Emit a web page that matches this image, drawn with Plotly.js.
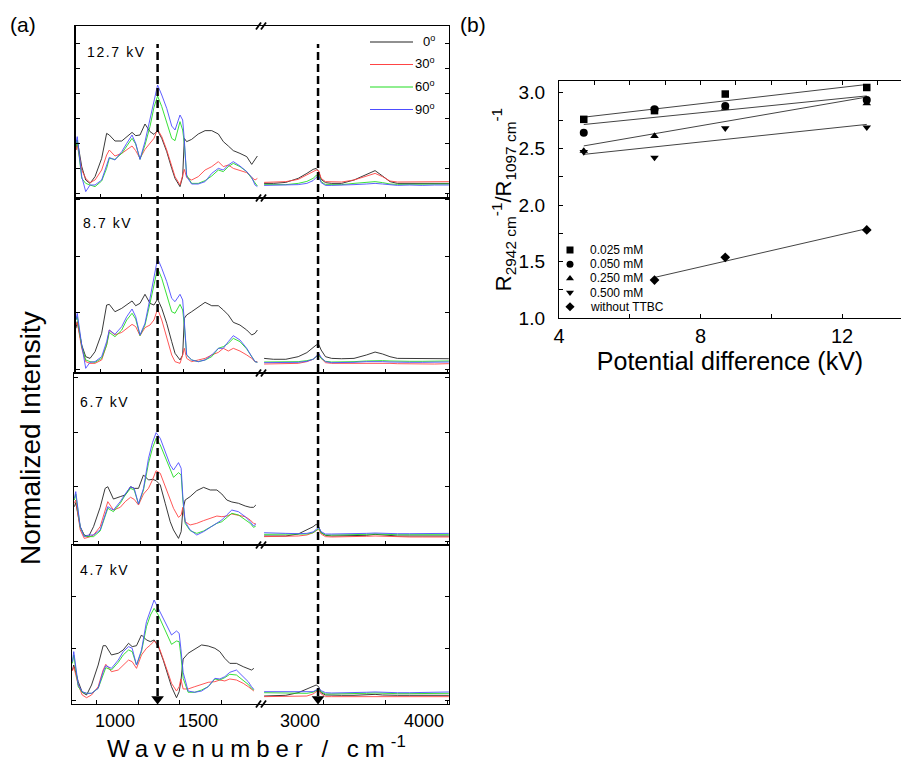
<!DOCTYPE html>
<html><head><meta charset="utf-8">
<script src="https://cdn.plot.ly/plotly-3.0.1.min.js"></script>
<style>html,body{margin:0;padding:0;background:#fff}#chart{width:901px;height:763px}</style>
</head><body><div id="chart"></div>
<script>
// ---------------- DATA ----------------
// panel (a): wavenumbers (cm-1) of the sampled points, low and high segment
const waveLow = [605, 613, 640, 664, 690, 720, 760, 790, 806, 840, 881, 911, 943, 965, 991, 1021, 1051, 1075, 1097, 1122, 1152, 1182, 1202, 1232, 1248, 1258, 1272, 1302, 1342, 1383, 1423, 1463, 1493, 1523, 1553, 1593, 1634, 1664, 1684, 1698];
const waveHigh = [2525, 2600, 2700, 2800, 2870, 2920, 2945, 2965, 2985, 3020, 3070, 3150, 3250, 3350, 3420, 3480, 3540, 3600, 3700, 3800, 3900, 4000, 4015];
const angles = ['0', '30', '60', '90'];
const voltages = ['12.7 kV', '8.7 kV', '6.7 kV', '4.7 kV'];

// 12.7 kV
const v127_a0_lo = [0.344, 0.424, 0.211, 0.104, 0.077, 0.131, 0.277, 0.477, 0.464, 0.416, 0.416, 0.451, 0.485, 0.459, 0.464, 0.552, 0.491, 0.469, 0.499, 0.437, 0.331, 0.197, 0.117, 0.051, 0.131, 0.437, 0.411, 0.429, 0.472, 0.499, 0.499, 0.472, 0.411, 0.376, 0.339, 0.317, 0.291, 0.229, 0.264, 0.296];
const v127_a30_lo = [0.344, 0.384, 0.184, 0.117, 0.083, 0.104, 0.184, 0.304, 0.344, 0.296, 0.317, 0.344, 0.376, 0.339, 0.277, 0.349, 0.397, 0.437, 0.509, 0.451, 0.344, 0.211, 0.131, 0.064, 0.131, 0.189, 0.125, 0.104, 0.131, 0.184, 0.211, 0.251, 0.211, 0.224, 0.197, 0.179, 0.163, 0.125, 0.104, 0.117];
const v127_a60_lo = [0.371, 0.424, 0.117, 0.077, 0.064, 0.051, 0.096, 0.197, 0.277, 0.269, 0.317, 0.371, 0.437, 0.392, 0.269, 0.384, 0.531, 0.685, 0.776, 0.691, 0.557, 0.437, 0.419, 0.571, 0.504, 0.397, 0.144, 0.077, 0.077, 0.099, 0.136, 0.184, 0.171, 0.211, 0.237, 0.211, 0.171, 0.117, 0.077, 0.056];
const v127_a90_lo = [0.397, 0.451, 0.131, 0.011, 0.064, 0.064, 0.104, 0.211, 0.285, 0.264, 0.331, 0.397, 0.464, 0.397, 0.269, 0.411, 0.597, 0.731, 0.864, 0.784, 0.677, 0.536, 0.504, 0.624, 0.584, 0.424, 0.131, 0.072, 0.072, 0.091, 0.157, 0.197, 0.184, 0.224, 0.251, 0.216, 0.171, 0.125, 0.064, 0.051];
const v127_a0_hi = [0.077, 0.077, 0.085, 0.117, 0.157, 0.189, 0.197, 0.171, 0.109, 0.083, 0.077, 0.077, 0.104, 0.152, 0.179, 0.136, 0.091, 0.077, 0.077, 0.083, 0.077, 0.077, 0.077];
const v127_a30_hi = [0.085, 0.085, 0.091, 0.109, 0.144, 0.171, 0.184, 0.179, 0.117, 0.091, 0.088, 0.088, 0.104, 0.136, 0.157, 0.131, 0.096, 0.088, 0.088, 0.091, 0.088, 0.091, 0.091];
const v127_a60_hi = [0.067, 0.067, 0.067, 0.077, 0.093, 0.117, 0.141, 0.144, 0.091, 0.067, 0.067, 0.067, 0.077, 0.088, 0.091, 0.083, 0.072, 0.069, 0.069, 0.069, 0.072, 0.072, 0.072];
const v127_a90_hi = [0.061, 0.061, 0.061, 0.067, 0.077, 0.099, 0.125, 0.136, 0.083, 0.061, 0.061, 0.061, 0.067, 0.072, 0.077, 0.072, 0.064, 0.061, 0.064, 0.061, 0.064, 0.064, 0.064];

// 8.7 kV
const v87_a0_lo = [0.360, 0.419, 0.212, 0.109, 0.094, 0.153, 0.316, 0.566, 0.572, 0.507, 0.537, 0.566, 0.602, 0.560, 0.581, 0.661, 0.581, 0.566, 0.619, 0.537, 0.404, 0.242, 0.139, 0.080, 0.124, 0.448, 0.478, 0.507, 0.552, 0.590, 0.560, 0.560, 0.522, 0.478, 0.413, 0.389, 0.345, 0.301, 0.316, 0.345];
const v87_a30_lo = [0.389, 0.413, 0.183, 0.065, 0.050, 0.050, 0.080, 0.212, 0.345, 0.301, 0.324, 0.360, 0.395, 0.375, 0.295, 0.366, 0.389, 0.434, 0.531, 0.434, 0.271, 0.124, 0.065, 0.050, 0.124, 0.183, 0.094, 0.065, 0.080, 0.094, 0.124, 0.147, 0.183, 0.159, 0.183, 0.159, 0.124, 0.094, 0.065, 0.065];
const v87_a60_lo = [0.434, 0.463, 0.198, 0.080, 0.065, 0.059, 0.094, 0.212, 0.324, 0.286, 0.345, 0.434, 0.493, 0.442, 0.295, 0.389, 0.581, 0.758, 0.891, 0.802, 0.655, 0.507, 0.493, 0.572, 0.522, 0.389, 0.124, 0.080, 0.065, 0.080, 0.109, 0.183, 0.198, 0.227, 0.271, 0.242, 0.177, 0.109, 0.065, 0.059];
const v87_a90_lo = [0.434, 0.493, 0.212, 0.006, 0.059, 0.065, 0.109, 0.242, 0.345, 0.307, 0.375, 0.463, 0.531, 0.463, 0.301, 0.404, 0.625, 0.817, 0.979, 0.891, 0.773, 0.625, 0.596, 0.661, 0.611, 0.419, 0.124, 0.080, 0.065, 0.080, 0.124, 0.183, 0.183, 0.242, 0.295, 0.257, 0.183, 0.109, 0.065, 0.059];
const v87_a0_hi = [0.094, 0.086, 0.086, 0.109, 0.145, 0.192, 0.212, 0.218, 0.168, 0.109, 0.094, 0.091, 0.094, 0.124, 0.150, 0.133, 0.109, 0.094, 0.094, 0.094, 0.091, 0.091, 0.091];
const v87_a30_hi = [0.044, 0.044, 0.044, 0.050, 0.065, 0.086, 0.109, 0.130, 0.094, 0.056, 0.050, 0.050, 0.050, 0.056, 0.056, 0.056, 0.050, 0.047, 0.044, 0.047, 0.044, 0.047, 0.047];
const v87_a60_hi = [0.062, 0.062, 0.062, 0.065, 0.074, 0.086, 0.109, 0.124, 0.094, 0.068, 0.062, 0.062, 0.065, 0.071, 0.074, 0.074, 0.071, 0.068, 0.068, 0.068, 0.071, 0.071, 0.071];
const v87_a90_hi = [0.056, 0.056, 0.056, 0.059, 0.068, 0.086, 0.109, 0.139, 0.103, 0.065, 0.056, 0.056, 0.059, 0.065, 0.068, 0.065, 0.062, 0.059, 0.059, 0.059, 0.062, 0.062, 0.062];

// 6.7 kV
const v67_a0_lo = [0.315, 0.352, 0.131, 0.055, 0.040, 0.131, 0.309, 0.483, 0.498, 0.385, 0.407, 0.422, 0.498, 0.483, 0.483, 0.606, 0.560, 0.566, 0.554, 0.514, 0.346, 0.177, 0.101, 0.024, 0.086, 0.284, 0.376, 0.407, 0.462, 0.492, 0.468, 0.468, 0.431, 0.376, 0.358, 0.346, 0.321, 0.309, 0.309, 0.330];
const v67_a30_lo = [0.346, 0.376, 0.101, 0.024, 0.034, 0.055, 0.131, 0.284, 0.361, 0.284, 0.309, 0.361, 0.401, 0.382, 0.330, 0.431, 0.483, 0.560, 0.645, 0.621, 0.498, 0.376, 0.300, 0.217, 0.239, 0.309, 0.177, 0.147, 0.162, 0.187, 0.208, 0.229, 0.223, 0.229, 0.248, 0.239, 0.223, 0.193, 0.162, 0.156];
const v67_a60_lo = [0.376, 0.431, 0.125, 0.046, 0.040, 0.040, 0.092, 0.223, 0.300, 0.269, 0.346, 0.422, 0.483, 0.468, 0.339, 0.468, 0.713, 0.850, 0.942, 0.881, 0.774, 0.651, 0.584, 0.627, 0.606, 0.376, 0.162, 0.095, 0.070, 0.092, 0.125, 0.162, 0.177, 0.217, 0.254, 0.239, 0.199, 0.162, 0.125, 0.138];
const v67_a90_lo = [0.391, 0.453, 0.131, 0.040, 0.055, 0.055, 0.101, 0.254, 0.315, 0.284, 0.361, 0.431, 0.498, 0.483, 0.339, 0.483, 0.758, 0.902, 0.994, 0.942, 0.820, 0.697, 0.651, 0.719, 0.667, 0.407, 0.177, 0.101, 0.055, 0.086, 0.125, 0.168, 0.193, 0.239, 0.284, 0.269, 0.223, 0.177, 0.138, 0.156];
const v67_a0_hi = [0.046, 0.046, 0.046, 0.064, 0.101, 0.131, 0.153, 0.131, 0.076, 0.052, 0.046, 0.046, 0.049, 0.052, 0.061, 0.055, 0.049, 0.046, 0.046, 0.046, 0.046, 0.046, 0.046];
const v67_a30_hi = [0.040, 0.040, 0.040, 0.046, 0.055, 0.076, 0.095, 0.107, 0.064, 0.040, 0.037, 0.037, 0.040, 0.043, 0.046, 0.043, 0.040, 0.037, 0.037, 0.037, 0.037, 0.037, 0.037];
const v67_a60_hi = [0.061, 0.061, 0.061, 0.061, 0.064, 0.076, 0.101, 0.113, 0.076, 0.055, 0.055, 0.055, 0.058, 0.061, 0.064, 0.061, 0.058, 0.058, 0.058, 0.058, 0.058, 0.058, 0.058];
const v67_a90_hi = [0.076, 0.076, 0.070, 0.067, 0.070, 0.083, 0.107, 0.125, 0.086, 0.064, 0.064, 0.064, 0.067, 0.070, 0.073, 0.070, 0.067, 0.067, 0.067, 0.067, 0.070, 0.070, 0.070];

// 4.7 kV
const v47_a0_lo = [0.293, 0.341, 0.181, 0.079, 0.053, 0.149, 0.341, 0.527, 0.527, 0.438, 0.454, 0.486, 0.550, 0.518, 0.527, 0.630, 0.582, 0.566, 0.582, 0.518, 0.389, 0.229, 0.133, 0.027, 0.085, 0.181, 0.399, 0.454, 0.495, 0.534, 0.524, 0.502, 0.470, 0.405, 0.357, 0.357, 0.325, 0.303, 0.293, 0.309];
const v47_a30_lo = [0.284, 0.325, 0.149, 0.053, 0.027, 0.053, 0.133, 0.293, 0.348, 0.277, 0.293, 0.341, 0.389, 0.373, 0.309, 0.438, 0.502, 0.534, 0.572, 0.534, 0.405, 0.261, 0.165, 0.091, 0.133, 0.207, 0.111, 0.111, 0.133, 0.155, 0.175, 0.181, 0.197, 0.188, 0.207, 0.197, 0.165, 0.133, 0.111, 0.091];
const v47_a60_lo = [0.357, 0.438, 0.133, 0.079, 0.069, 0.069, 0.117, 0.261, 0.316, 0.293, 0.367, 0.438, 0.486, 0.470, 0.341, 0.470, 0.710, 0.822, 0.886, 0.822, 0.710, 0.598, 0.540, 0.572, 0.566, 0.438, 0.213, 0.079, 0.079, 0.101, 0.133, 0.207, 0.197, 0.220, 0.252, 0.245, 0.197, 0.155, 0.117, 0.101];
const v47_a90_lo = [0.373, 0.470, 0.149, 0.085, 0.069, 0.069, 0.117, 0.277, 0.335, 0.309, 0.389, 0.470, 0.518, 0.502, 0.341, 0.486, 0.758, 0.870, 0.966, 0.886, 0.790, 0.694, 0.630, 0.668, 0.646, 0.502, 0.271, 0.091, 0.079, 0.091, 0.133, 0.213, 0.207, 0.229, 0.271, 0.293, 0.229, 0.181, 0.133, 0.107];
const v47_a0_hi = [0.043, 0.043, 0.050, 0.075, 0.107, 0.133, 0.149, 0.133, 0.075, 0.053, 0.050, 0.050, 0.050, 0.053, 0.059, 0.053, 0.050, 0.050, 0.050, 0.050, 0.050, 0.050, 0.050];
const v47_a30_hi = [0.037, 0.037, 0.037, 0.037, 0.043, 0.063, 0.085, 0.101, 0.063, 0.037, 0.037, 0.037, 0.037, 0.040, 0.043, 0.040, 0.037, 0.037, 0.037, 0.037, 0.037, 0.037, 0.037];
const v47_a60_hi = [0.075, 0.075, 0.069, 0.069, 0.069, 0.079, 0.095, 0.107, 0.085, 0.063, 0.063, 0.063, 0.066, 0.069, 0.072, 0.069, 0.066, 0.066, 0.066, 0.066, 0.069, 0.069, 0.069];
const v47_a90_hi = [0.085, 0.085, 0.082, 0.079, 0.079, 0.085, 0.101, 0.117, 0.095, 0.075, 0.072, 0.072, 0.075, 0.079, 0.082, 0.079, 0.075, 0.075, 0.075, 0.075, 0.079, 0.082, 0.082];

// marked bands (cm-1) for the dashed arrows
const markedBands = [1097, 2960];

// panel (b)
const kv = [4.7, 6.7, 8.7, 12.7];
const ratio025 = [2.758, 2.835, 2.982, 3.040];
const ratio050 = [2.640, 2.847, 2.876, 2.929];
const ratio250 = [2.478, 2.610, 2.860, 2.900];
const ratio500 = [2.469, 2.420, 2.680, 2.687];
const kvNoTTBC = [6.7, 8.7, 12.7];
const ratioNoTTBC = [1.336, 1.537, 1.779];
const seriesNames = ['0.025 mM', '0.050 mM', '0.250 mM', '0.500 mM', 'without TTBC'];

// ---------------- STYLE / GEOMETRY ----------------
const W = 901, H = 763;
const fx = p => p / W;
const fy = p => 1 - p / H;
const FONT = 'Liberation Sans, Arial, sans-serif';
const lineColors = ['#222222', '#ff4444', '#22dd22', '#4d4dff'];
const symbols = ['square', 'circle', 'triangle-up', 'triangle-down', 'diamond'];

const boxTop = [26, 198, 373, 545], boxBot = [198, 373, 545, 704];
const boxLeft = [75.5, 75.5, 74, 72], boxRight = 449, seg1Width = 186.5;
const zeroPx = [193, 369, 541, 700.5], unitPx = [125, 113, 109, 104], dticks = [0.2, 0.5, 0.5, 0.5];
const labelPos = [[85, 52], [81, 223], [78, 402], [78, 570]];

const panels = [
  {lo: [v127_a0_lo, v127_a30_lo, v127_a60_lo, v127_a90_lo], hi: [v127_a0_hi, v127_a30_hi, v127_a60_hi, v127_a90_hi]},
  {lo: [v87_a0_lo, v87_a30_lo, v87_a60_lo, v87_a90_lo], hi: [v87_a0_hi, v87_a30_hi, v87_a60_hi, v87_a90_hi]},
  {lo: [v67_a0_lo, v67_a30_lo, v67_a60_lo, v67_a90_lo], hi: [v67_a0_hi, v67_a30_hi, v67_a60_hi, v67_a90_hi]},
  {lo: [v47_a0_lo, v47_a30_lo, v47_a60_lo, v47_a90_lo], hi: [v47_a0_hi, v47_a30_hi, v47_a60_hi, v47_a90_hi]}
];

const ax = (c, i) => i === 1 ? c : c + i;
const axKey = (c, i) => i === 1 ? c + 'axis' : c + 'axis' + i;

const traces = [];
const layout = {
  width: W, height: H, margin: {l: 0, r: 0, t: 0, b: 0},
  paper_bgcolor: '#fff', plot_bgcolor: 'rgba(0,0,0,0)',
  showlegend: false, font: {family: FONT, color: '#000'},
  shapes: [], annotations: []
};

const commonAxis = {showgrid: false, zeroline: false, showline: true, linecolor: '#000', linewidth: 1.2,
  ticks: 'inside', ticklen: 4, tickcolor: '#000', tickwidth: 1, fixedrange: true};
const minorTicks = vals => ({tickmode: 'array', tickvals: vals, ticks: 'inside', ticklen: 4, tickcolor: '#000', tickwidth: 1, showgrid: false});

const seg1Range = k => [750 - 24.5 / 0.166, 750 + (seg1Width - 24.5) / 0.166];
const seg2Range = k => [3000 - (323 - (boxLeft[k] + seg1Width)) / 0.124, 3000 + (boxRight - 323) / 0.124];
const yRangeOf = k => [(zeroPx[k] - boxBot[k]) / unitPx[k], (zeroPx[k] - boxTop[k]) / unitPx[k]];

panels.forEach((p, k) => {
  const i1 = 2 * k + 1, i2 = 2 * k + 2;
  const left = boxLeft[k], split = left + seg1Width;
  const yDom = [fy(boxBot[k]), fy(boxTop[k])];
  const yRange = yRangeOf(k);
  layout[axKey('x', i1)] = Object.assign({}, commonAxis, {
    domain: [fx(left), fx(split)], range: seg1Range(k),
    anchor: ax('y', i1), mirror: true, tickmode: 'array', tickvals: [1000, 1500],
    minor: minorTicks([750, 1250]), showticklabels: k === 3, ticklabelshift: -23,
    tickfont: {size: 18, family: FONT}
  });
  layout[axKey('x', i2)] = Object.assign({}, commonAxis, {
    domain: [fx(split), fx(boxRight)], range: seg2Range(k),
    anchor: ax('y', i2), mirror: true, tickmode: 'array', tickvals: [3000, 4000],
    minor: minorTicks([3500]), showticklabels: k === 3, ticklabelshift: -23,
    tickfont: {size: 18, family: FONT}
  });
  layout[axKey('y', i1)] = Object.assign({}, commonAxis, {
    domain: yDom, range: yRange, anchor: ax('x', i1), tick0: 0, dtick: dticks[k], showticklabels: false
  });
  layout[axKey('y', i2)] = Object.assign({}, commonAxis, {
    domain: yDom, range: yRange, anchor: ax('x', i2), side: 'right', tick0: 0, dtick: dticks[k], showticklabels: false
  });
  angles.forEach((a, j) => {
    traces.push({type: 'scatter', mode: 'lines', name: a + '°', x: waveLow, y: p.lo[j],
      xaxis: ax('x', i1), yaxis: ax('y', i1), line: {color: lineColors[j], width: 0.9}, hoverinfo: 'skip'});
    traces.push({type: 'scatter', mode: 'lines', name: a + '°', x: waveHigh, y: p.hi[j],
      xaxis: ax('x', i2), yaxis: ax('y', i2), line: {color: lineColors[j], width: 0.9}, hoverinfo: 'skip'});
  });
  layout.annotations.push({text: '<span style="letter-spacing:1.6px">' + voltages[k] + '</span>',
    xref: 'paper', yref: 'paper', x: fx(labelPos[k][0]), y: fy(labelPos[k][1]), xanchor: 'left', yanchor: 'middle',
    showarrow: false, font: {size: 14, family: FONT}});
});

// break marks
[26, 198, 373, 545, 704].forEach(yb => {
  [256, 261].forEach(xb => {
    layout.shapes.push({type: 'line', xref: 'paper', yref: 'paper', x0: fx(xb), x1: fx(xb + 5),
      y0: fy(yb + 3.5), y1: fy(yb - 3.5), line: {color: '#000', width: 1.8}});
  });
});

// hidden helper axes: top-panel wavenumber scale combined with the bottom-panel intensity scale (for arrowheads)
layout.xaxis12 = {domain: [fx(boxLeft[0]), fx(boxLeft[0] + seg1Width)], range: seg1Range(0), visible: false, fixedrange: true, anchor: 'y12'};
layout.yaxis12 = {domain: [fy(boxBot[3]), fy(boxTop[3])], range: yRangeOf(3), visible: false, fixedrange: true, anchor: 'x12'};
layout.xaxis13 = {domain: [fx(boxLeft[0] + seg1Width), fx(boxRight)], range: seg2Range(0), visible: false, fixedrange: true, anchor: 'y13'};
layout.yaxis13 = {domain: [fy(boxBot[3]), fy(boxTop[3])], range: yRangeOf(3), visible: false, fixedrange: true, anchor: 'x13'};
const arrowTipValue = (zeroPx[3] - 699) / unitPx[3];

markedBands.forEach((b, i) => {
  const xr = i === 0 ? 'x' : 'x2';
  layout.shapes.push({type: 'line', xref: xr, yref: 'paper', x0: b, x1: b, y0: fy(696), y1: fy(44),
    line: {color: '#000', width: 2.5, dash: '8px,4px'}});
  traces.push({type: 'scatter', mode: 'markers', x: [b], y: [arrowTipValue], xaxis: i === 0 ? 'x12' : 'x13',
    yaxis: i === 0 ? 'y12' : 'y13', cliponaxis: false,
    marker: {symbol: 'triangle-down', size: 11, color: '#000', line: {width: 0}}, hoverinfo: 'skip'});
});

// legend (a)
const legRows = [42, 64.5, 87, 109.5];
angles.forEach((a, j) => {
  layout.shapes.push({type: 'line', xref: 'paper', yref: 'paper', x0: fx(370), x1: fx(413),
    y0: fy(legRows[j]), y1: fy(legRows[j]), line: {color: lineColors[j], width: 1.2}});
  layout.annotations.push({text: a + '<sup>o</sup>', xref: 'paper', yref: 'paper', x: fx(437), y: fy(legRows[j] - 1),
    xanchor: 'right', yanchor: 'middle', showarrow: false, font: {size: 13, family: FONT}});
});

// panel labels and titles of (a)
layout.annotations.push({text: '(a)', xref: 'paper', yref: 'paper', x: fx(23), y: fy(24), showarrow: false,
  xanchor: 'center', yanchor: 'middle', font: {size: 21, family: FONT}});
layout.annotations.push({text: '(b)', xref: 'paper', yref: 'paper', x: fx(473), y: fy(24), showarrow: false,
  xanchor: 'center', yanchor: 'middle', font: {size: 21, family: FONT}});
layout.annotations.push({text: 'Normalized Intensity', xref: 'paper', yref: 'paper', x: fx(30), y: fy(438),
  textangle: -90, showarrow: false, xanchor: 'center', yanchor: 'middle', font: {size: 28, family: FONT}});
layout.annotations.push({text: '<span style="letter-spacing:6px">Wavenumber / cm</span><sup>-1</sup>',
  xref: 'paper', yref: 'paper', x: fx(256), y: fy(747), showarrow: false, xanchor: 'center', yanchor: 'middle',
  font: {size: 24, family: FONT}});

// ---------------- panel (b) ----------------
const xMaxB = 4 + (W - 559) / 35.375;
layout.xaxis9 = Object.assign({}, commonAxis, {
  domain: [fx(559), 1], range: [4, xMaxB], anchor: 'y9', mirror: true, tick0: 4, dtick: 4,
  minor: {dtick: 2, ticks: 'inside', ticklen: 4, tickcolor: '#000'},
  tickfont: {size: 20, family: FONT},
  title: {text: 'Potential difference (kV)', font: {size: 25, family: FONT}, standoff: 0}
});
layout.xaxis10 = {overlaying: 'x9', side: 'top', anchor: 'y9', range: [4, xMaxB], tick0: 4, dtick: 1,
  ticks: 'inside', ticklen: 4, tickcolor: '#000', showticklabels: false, showline: false, showgrid: false,
  zeroline: false, fixedrange: true};
layout.yaxis9 = Object.assign({}, commonAxis, {
  domain: [fy(318), fy(81)], range: [1, 1 + (318 - 81) / 113], anchor: 'x9', tick0: 1, dtick: 0.5,
  tickformat: '.1f', minor: {dtick: 0.25, ticks: 'inside', ticklen: 4, tickcolor: '#000'},
  tickfont: {size: 19, family: FONT}, ticklabelstandoff: 9,
  title: {text: 'R<sub>2942 cm</sub><sup>-1</sup>/R<sub>1097 cm</sub><sup>-1</sup>', font: {size: 22, family: FONT}, standoff: 0}
});

function linFit(xs, ys) {
  const n = xs.length, mx = xs.reduce((s, v) => s + v, 0) / n, my = ys.reduce((s, v) => s + v, 0) / n;
  let sxy = 0, sxx = 0;
  xs.forEach((x, i) => { sxy += (x - mx) * (ys[i] - my); sxx += (x - mx) * (x - mx); });
  const b = sxy / sxx, a = my - b * mx;
  const x0 = Math.min(...xs), x1 = Math.max(...xs);
  return {x: [x0, x1], y: [a + b * x0, a + b * x1]};
}

const seriesB = [[kv, ratio025], [kv, ratio050], [kv, ratio250], [kv, ratio500], [kvNoTTBC, ratioNoTTBC]];
seriesB.forEach((s, i) => {
  const f = linFit(s[0], s[1]);
  traces.push({type: 'scatter', mode: 'lines', x: f.x, y: f.y, xaxis: 'x9', yaxis: 'y9',
    line: {color: '#444', width: 1}, hoverinfo: 'skip', name: seriesNames[i] + ' fit'});
});
seriesB.forEach((s, i) => {
  traces.push({type: 'scatter', mode: 'markers', x: s[0], y: s[1], xaxis: 'x9', yaxis: 'y9', name: seriesNames[i],
    marker: {symbol: symbols[i], color: '#000', size: i === 1 ? 8 : 7.5}});
});
// dummy trace so the top tick axis renders
traces.push({type: 'scatter', mode: 'markers', x: [4], y: [1], xaxis: 'x10', yaxis: 'y9',
  marker: {opacity: 0}, hoverinfo: 'skip'});

// legend (b): keys on a hidden helper axis, one row per series index
layout.xaxis11 = {domain: [fx(560), fx(580)], range: [0, 1], visible: false, fixedrange: true, anchor: 'y11'};
layout.yaxis11 = {domain: [fy(313.9), fy(242.9)], range: [seriesNames.length - 0.5, -0.5], visible: false, fixedrange: true, anchor: 'x11'};
traces.push({type: 'scatter', mode: 'markers', x: seriesNames.map(() => 0.5), y: seriesNames.map((_, i) => i),
  xaxis: 'x11', yaxis: 'y11', marker: {symbol: symbols, color: '#000', size: 7}, hoverinfo: 'skip'});
seriesNames.forEach((nm, i) => {
  layout.annotations.push({text: nm, xref: 'paper', yref: 'paper', x: fx(588), y: fy(250 + 14.2 * i),
    xanchor: 'left', yanchor: 'middle', showarrow: false, font: {size: 12, family: FONT}});
});

Plotly.newPlot('chart', traces, layout, {staticPlot: true, displayModeBar: false});
</script>
</body></html>
